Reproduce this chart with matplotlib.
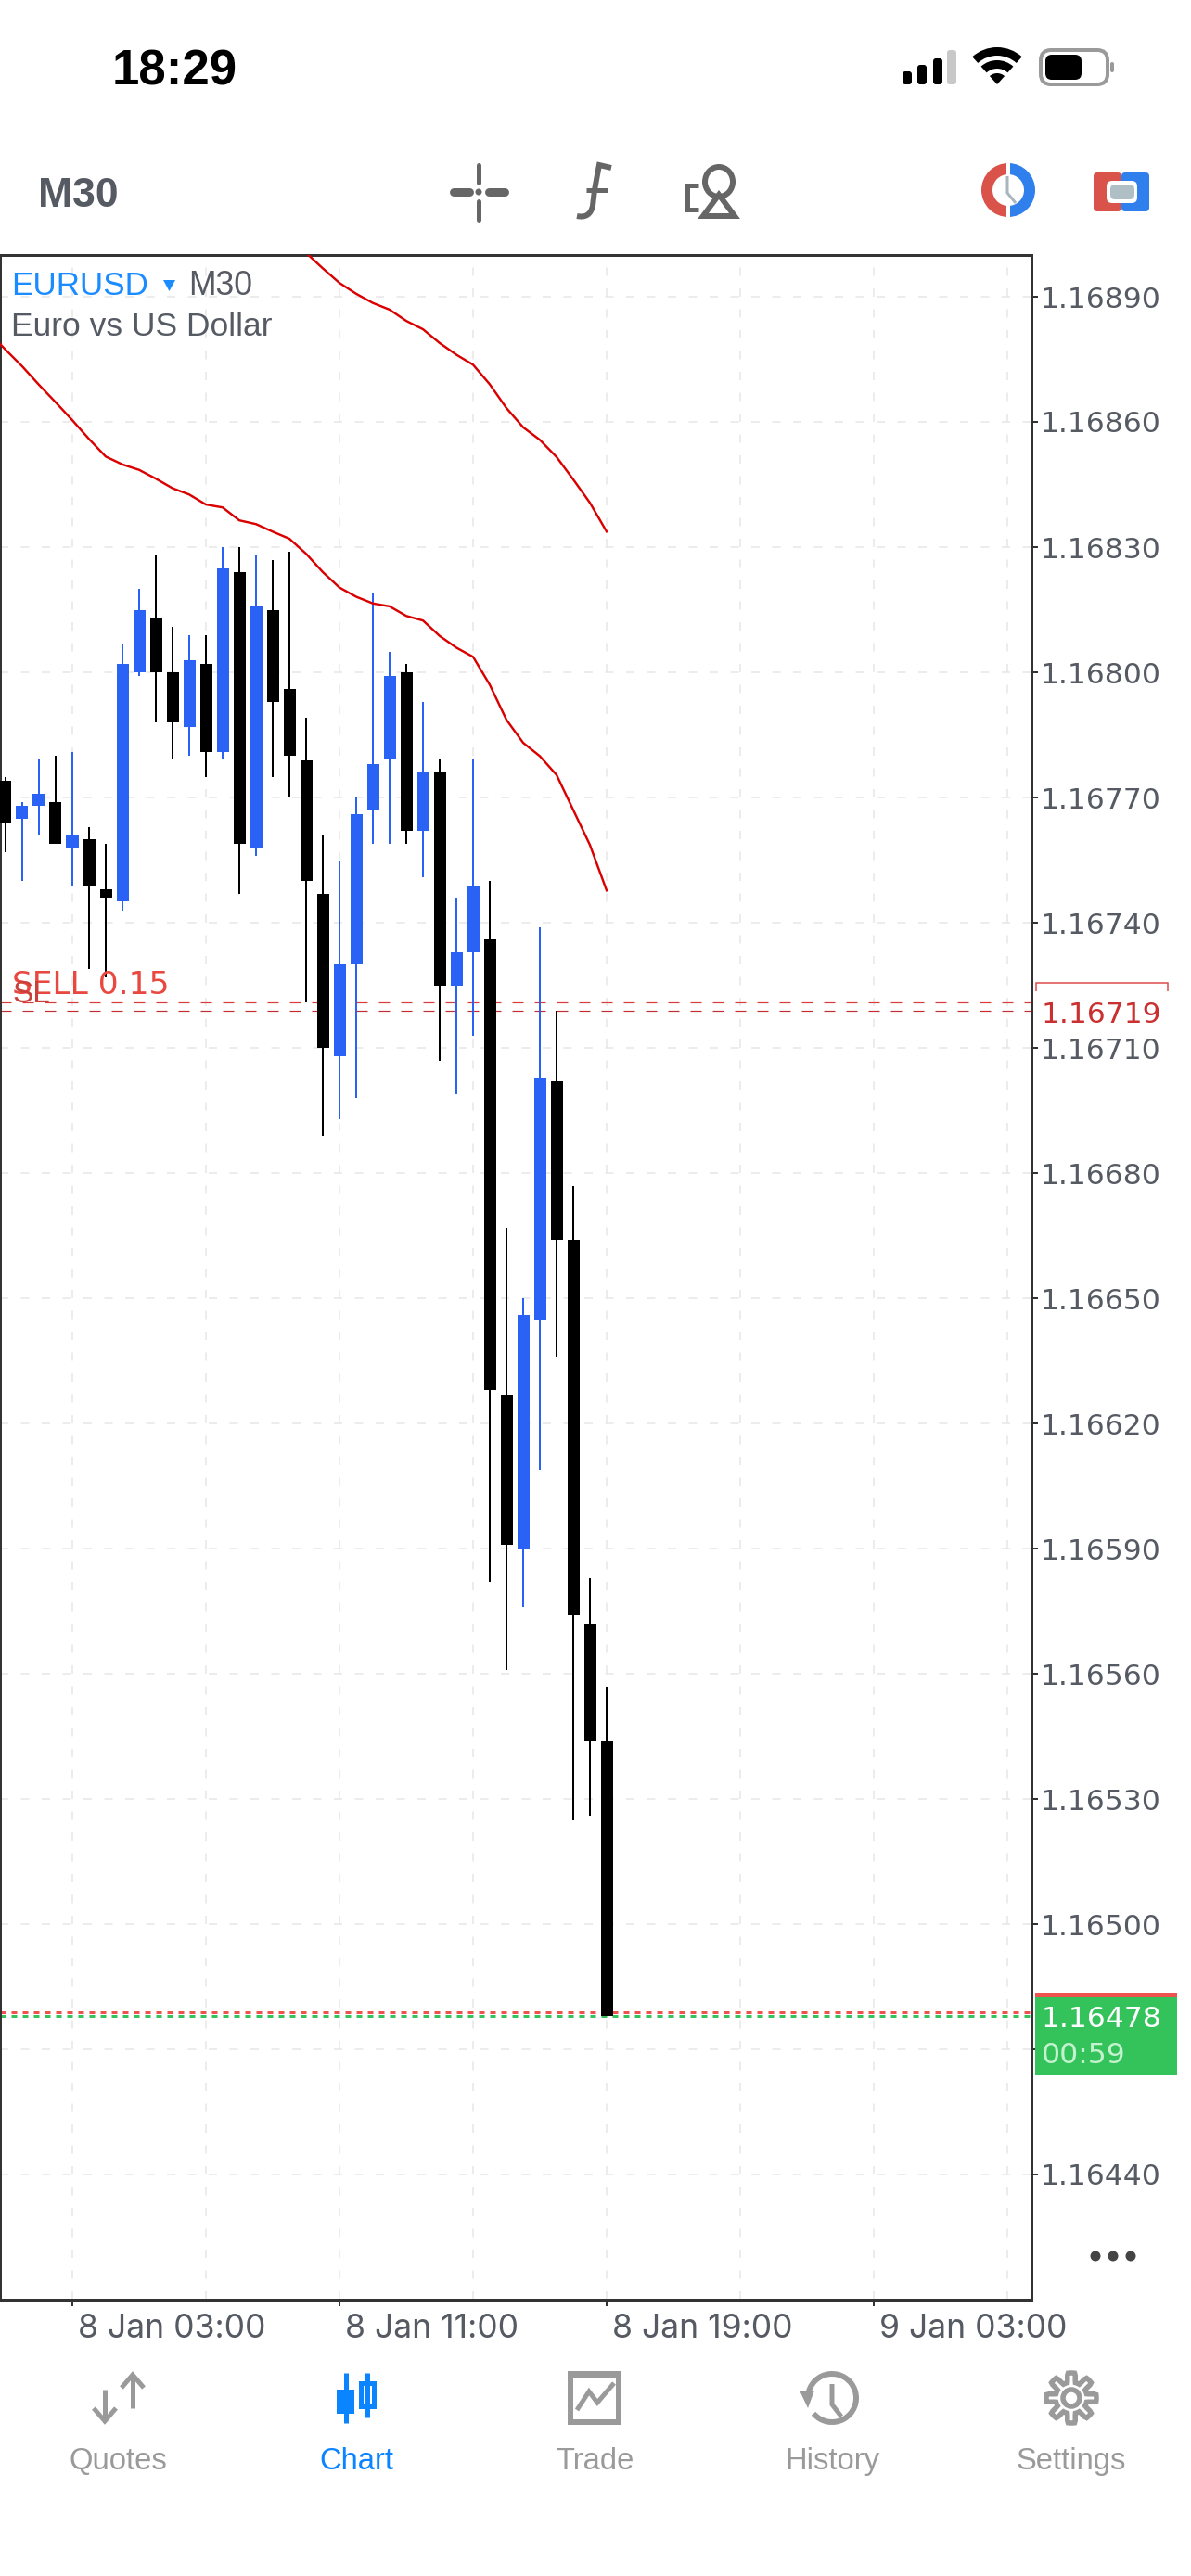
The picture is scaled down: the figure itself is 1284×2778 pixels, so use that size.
import numpy as np
import matplotlib
matplotlib.use("Agg")
import matplotlib.pyplot as plt
from matplotlib.patches import Rectangle, FancyBboxPatch, Circle, Wedge, Polygon, PathPatch, Ellipse
from matplotlib.path import Path
from matplotlib.transforms import ScaledTranslation

# candles, k = 0 is 8 Jan 01:00, one candle every 30 min
opens = [1.16774, 1.16765, 1.16768, 1.16769, 1.16758, 1.16760, 1.16748, 1.16745, 1.16800, 1.16813, 1.16800, 1.16787,
         1.16802, 1.16781, 1.16824, 1.16758, 1.16815, 1.16796, 1.16779, 1.16747, 1.16708, 1.16730, 1.16767, 1.16779,
         1.16800, 1.16762, 1.16776, 1.16725, 1.16733, 1.16736, 1.16627, 1.16590, 1.16645, 1.16702, 1.16664, 1.16572,
         1.16544]
highs = [1.16775, 1.16769, 1.16779, 1.16780, 1.16781, 1.16763, 1.16759, 1.16807, 1.16820, 1.16828, 1.16811, 1.16809,
         1.16809, 1.16830, 1.16830, 1.16828, 1.16827, 1.16829, 1.16789, 1.16761, 1.16755, 1.16770, 1.16819, 1.16805,
         1.16802, 1.16793, 1.16779, 1.16746, 1.16779, 1.16750, 1.16667, 1.16650, 1.16739, 1.16719, 1.16677, 1.16583,
         1.16557]
lows = [1.16757, 1.16750, 1.16761, 1.16759, 1.16749, 1.16729, 1.16727, 1.16743, 1.16799, 1.16788, 1.16779, 1.16780,
        1.16775, 1.16779, 1.16747, 1.16756, 1.16775, 1.16770, 1.16721, 1.16689, 1.16693, 1.16698, 1.16759, 1.16759,
        1.16759, 1.16751, 1.16707, 1.16699, 1.16713, 1.16582, 1.16561, 1.16576, 1.16609, 1.16636, 1.16525, 1.16526,
        1.16478]
closes = [1.16764, 1.16768, 1.16771, 1.16759, 1.16761, 1.16749, 1.16746, 1.16802, 1.16815, 1.16800, 1.16788, 1.16803,
          1.16781, 1.16825, 1.16759, 1.16816, 1.16793, 1.16780, 1.16750, 1.16710, 1.16730, 1.16766, 1.16778, 1.16799,
          1.16762, 1.16776, 1.16725, 1.16733, 1.16749, 1.16628, 1.16591, 1.16646, 1.16703, 1.16664, 1.16574, 1.16544,
          1.16478]

# red band, first value is one candle left of k = 0
lower_band = [1.168815, 1.168773, 1.168733, 1.168689, 1.168647, 1.168604, 1.168559, 1.168517, 1.168498, 1.168485,
              1.168464, 1.168441, 1.168426, 1.168402, 1.168395, 1.168364, 1.168355, 1.168337, 1.168320, 1.168284,
              1.168240, 1.168203, 1.168181, 1.168165, 1.168158, 1.168135, 1.168124, 1.168087, 1.168059, 1.168037,
              1.167970, 1.167886, 1.167831, 1.167799, 1.167754, 1.167670, 1.167586, 1.167477]
# starts at k = 17
upper_band = [1.16904, 1.169005, 1.168968, 1.168933, 1.168907, 1.168885, 1.168869, 1.168842, 1.168822, 1.168789,
              1.168761, 1.168737, 1.168690, 1.168633, 1.168587, 1.168557, 1.168516, 1.168462, 1.168406, 1.168337]

price_ticks = [1.16890, 1.16860, 1.16830, 1.16800, 1.16770, 1.16740, 1.16710, 1.16680, 1.16650, 1.16620, 1.16590,
               1.16560, 1.16530, 1.16500, 1.16470, 1.16440]
hidden_tick = 1.16470
time_ticks = [6, 22, 38, 54]
time_labels = ["8 Jan 03:00", "8 Jan 11:00", "8 Jan 19:00", "9 Jan 03:00"]
time_grid = [14, 30, 46, 62]

sell_price = 1.16721
sl_price = 1.16719
ask_price = 1.16479
bid_price = 1.16478

tab_names = ["Quotes", "Chart", "Trade", "History", "Settings"]

W, H = 1284, 2778
BLUE = "#2962F4"
RED = "#DA0000"
GRID = "#E6E6E8"
LABEL = "#555A63"
ICON = "#666666"
TAB = "#9A9A9A"
TAB_ON = "#0A84FF"
SANS = ["Liberation Sans", "DejaVu Sans"]

plt.rcParams["font.family"] = SANS


def px(n):
    return n * 0.72


fig = plt.figure(figsize=(W / 100, H / 100), dpi=100, facecolor="white")

# main chart, 4.5 px per point
left, right, top, bottom = 0, 1112, 275, 2480
ax = fig.add_axes([left / W, 1 - bottom / H, (right - left) / W, (bottom - top) / H])
ax.set_xlim(1.667, 63.44)
ax.set_ylim(1.16890 - (bottom - 320) / 450000, 1.16890 + (320 - top) / 450000)

for s in ax.spines.values():
    s.set_color("#333333")
    s.set_linewidth(px(3))

ax.yaxis.tick_right()
ax.set_yticks(price_ticks)
ax.set_yticklabels(["" if p == hidden_tick else "%.5f" % p for p in price_ticks],
                   family=["DejaVu Sans"], fontsize=22.6, color=LABEL)
ax.tick_params(axis="y", direction="out", length=px(7), width=px(2), color="#333333", pad=px(3))
ax.set_xticks(time_ticks)
ax.set_xticklabels(time_labels, ha="left", fontsize=25.6, color=LABEL, family=["Inter", "Liberation Sans"])
ax.tick_params(axis="x", direction="out", length=px(7), width=px(2), color="#333333", pad=px(8))
offset = ScaledTranslation(6 / 100, 0, fig.dpi_scale_trans)
for t in ax.get_xticklabels():
    t.set_transform(t.get_transform() + offset)

dash = (0, (6, 9))
for p in price_ticks:
    ax.axhline(p, color=GRID, lw=px(1.5), ls=dash, zorder=1)
for x in time_ticks + time_grid:
    ax.axvline(x, color=GRID, lw=px(1.5), ls=dash, zorder=1)

ax.axhline(sell_price, color="#D93B3B", lw=px(1.2), ls=(0, (10, 10)), zorder=2)
ax.axhline(sl_price, color="#C22F33", lw=px(1.2), ls=(0, (10, 10)), zorder=2)
ax.axhline(ask_price, color="#EF5350", lw=px(3), ls=(0, (2, 2)), zorder=2)
ax.axhline(bid_price, color="#34C35A", lw=px(3), ls=(0, (2, 2)), zorder=2)

xs = np.arange(len(opens)) + 2
for x, o, h, l, c in zip(xs, opens, highs, lows, closes):
    col = BLUE if c > o else "black"
    ax.vlines(x, l, h, color=col, lw=px(2), zorder=3)
    ax.bar(x, abs(c - o), bottom=min(o, c), width=13 / 18, color=col, lw=0, zorder=4)

ax.plot(np.arange(len(lower_band)) + 1, lower_band, color=RED, lw=px(2.4), zorder=5)
ax.plot(np.arange(len(upper_band)) + 19, upper_band, color=RED, lw=px(2.4), zorder=5)

# everything else is drawn in pixel coordinates
ov = fig.add_axes([0, 0, 1, 1], zorder=10)
ov.set_xlim(0, W)
ov.set_ylim(H, 0)
ov.axis("off")
ov.patch.set_alpha(0)


def rect(x0, y0, x1, y1, color, **kw):
    ov.add_patch(Rectangle((x0, y0), x1 - x0, y1 - y0, facecolor=color, lw=0, **kw))


def rrect(x0, y0, x1, y1, r, face, edge="none", lw=0):
    ov.add_patch(FancyBboxPatch((x0 + r, y0 + r), x1 - x0 - 2 * r, y1 - y0 - 2 * r,
                                boxstyle="round,pad=%f,rounding_size=%f" % (r, r),
                                facecolor=face, edgecolor=edge, lw=lw))


def stroke(points, color, width, cap="butt", join="miter"):
    pts = np.array(points)
    ov.plot(pts[:, 0], pts[:, 1], color=color, lw=px(width), solid_capstyle=cap, solid_joinstyle=join)


# status bar
ov.text(121, 92, "18:29", fontsize=38, fontweight="bold", color="black", va="baseline")
for x0, y0, c in [(973, 77, "black"), (989, 70, "black"), (1006, 63, "black"), (1021, 54, "#C8C8C8")]:
    rrect(x0, y0, x0 + 10, 91, 3, c)
for r0, r1 in [(0, 12), (17, 26), (31, 40)]:
    ov.add_patch(Wedge((1075, 91), r1, 228, 312, width=r1 - r0, facecolor="black", lw=0))
rrect(1122, 54, 1194, 91, 11, "white", "#9A9A9A", px(4))
rrect(1127, 59, 1166, 86, 7, "black")
rrect(1197, 67, 1201, 78, 2, "#9A9A9A")

# toolbar
ov.text(41, 223, "M30", fontsize=32, fontweight="bold", color=LABEL, va="baseline")
stroke([(516, 178), (516, 197)], ICON, 5, "round")
stroke([(516, 217), (516, 237)], ICON, 5, "round")
stroke([(489, 207), (506, 207)], ICON, 9, "round")
stroke([(527, 207), (544, 207)], ICON, 9, "round")
ov.add_patch(Circle((516, 207), 3.5, facecolor=ICON, lw=0))
f_path = Path([(622, 233), (636, 236), (639, 222), (641, 205), (644, 188), (646, 178), (659, 181)],
              [Path.MOVETO, Path.CURVE3, Path.CURVE3, Path.LINETO, Path.CURVE3, Path.CURVE3, Path.LINETO])
ov.add_patch(PathPatch(f_path, facecolor="none", edgecolor=ICON, lw=px(6)))
stroke([(632, 205), (655, 205)], ICON, 5)
stroke([(753, 200), (741, 200), (741, 226), (753, 226)], ICON, 5)
ov.add_patch(Ellipse((775, 196), 30, 32, facecolor="none", edgecolor=ICON, lw=px(6)))
ov.add_patch(Polygon([(775, 210), (758, 233), (792, 233)], closed=True, facecolor="white", edgecolor=ICON, lw=px(6)))
ov.add_patch(Wedge((1087, 205), 29, 90, 270, width=12, facecolor="#D9534A", lw=0))
ov.add_patch(Wedge((1087, 205), 29, -90, 90, width=12, facecolor="#2F80ED", lw=0))
rect(1085, 174, 1089, 190, "white")
rect(1085, 220, 1089, 236, "white")
stroke([(1086, 190), (1086, 208), (1095, 219)], "#A9B6BE", 3)
rrect(1179, 186, 1209, 228, 4, "#D9534A")
rrect(1209, 186, 1239, 228, 4, "#2F80ED")
rrect(1193, 195, 1226, 219, 6, "white")
rrect(1197, 199, 1223, 215, 5, "#B0BEC5")

# chart captions
ov.text(12, 318, "EURUSD", fontsize=25.2, color="#1A8CFF", va="baseline")
ov.add_patch(Polygon([(176, 302), (189, 302), (182.5, 314)], closed=True, facecolor="#1A8CFF", lw=0))
ov.text(203, 318, "M30", fontsize=25.6, color=LABEL, va="baseline")
ov.text(12, 362, "Euro vs US Dollar", fontsize=25.5, color=LABEL, va="baseline")
ov.text(13, 1072, "SELL 0.15", fontsize=24.8, color="#E8483F", va="baseline", family=["DejaVu Sans"])
ov.text(13, 1081, "SL", fontsize=24, color="#C9403A", va="baseline")

# price flags
stroke([(1117, 1069), (1117, 1060), (1259, 1060), (1259, 1069)], "#DC4A48", 1.5)
ov.text(1123, 1103, "1.16719", fontsize=22.6, color="#C9302F", va="baseline", family=["DejaVu Sans"])
rect(1116, 2149, 1269, 2238, "#34C35A")
rect(1116, 2149, 1269, 2154, "#EF5350")
ov.text(1123, 2186, "1.16478", fontsize=22.6, color="white", va="baseline", family=["DejaVu Sans"])
ov.text(1123, 2225, "00:59", fontsize=22.6, color="#C4F2CE", va="baseline", family=["DejaVu Sans"])
for x in (1181, 1200, 1219):
    ov.add_patch(Circle((x, 2433), 5.5, facecolor="#444444", lw=0))

# tab bar
tab_x = [127, 384, 641, 897, 1155]
for name, x in zip(tab_names, tab_x):
    ov.text(x, 2663, name, fontsize=23.6, ha="center", va="baseline", color=TAB_ON if name == "Chart" else TAB)

# quotes
stroke([(113, 2577), (113, 2610)], TAB, 5)
stroke([(101, 2597), (113, 2611), (125, 2597)], TAB, 5)
stroke([(143, 2597), (143, 2562)], TAB, 5)
stroke([(131, 2575), (143, 2561), (155, 2575)], TAB, 5)
# chart
stroke([(373, 2559), (373, 2613)], TAB_ON, 5)
rect(363, 2577, 382, 2603, TAB_ON)
stroke([(396, 2559), (396, 2607)], TAB_ON, 5)
ov.add_patch(Rectangle((389, 2570), 14, 25, facecolor="white", edgecolor=TAB_ON, lw=px(5)))
# trade
ov.add_patch(Rectangle((615, 2560), 52, 52, facecolor="white", edgecolor=TAB, lw=px(6)))
rect(612, 2557, 670, 2565, TAB)
stroke([(622, 2599), (635, 2579), (644, 2591), (662, 2570)], TAB, 5)
# history
ov.add_patch(Wedge((897, 2586), 29, -175, 140, width=6, facecolor=TAB, lw=0))
ov.add_patch(Polygon([(862, 2578), (878, 2578), (871, 2597)], closed=True, facecolor=TAB, lw=0))
stroke([(897, 2571), (897, 2593), (907, 2606)], TAB, 5)
# settings
ang = np.linspace(0, 2 * np.pi, 145)
gear_r = 22 + 5 * np.clip(3 * np.cos(8 * ang), -1, 1)
ov.fill(1155 + gear_r * np.cos(ang), 2586 + gear_r * np.sin(ang), facecolor="white", edgecolor=TAB, lw=px(5.5))
ov.add_patch(Circle((1155, 2586), 9, facecolor="white", edgecolor=TAB, lw=px(5.5)))

fig.savefig("out.png", dpi=100, facecolor="white")
